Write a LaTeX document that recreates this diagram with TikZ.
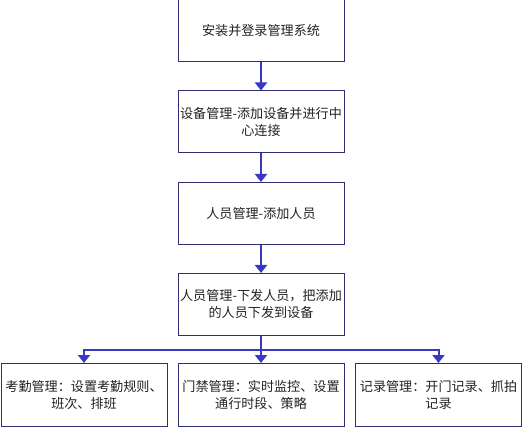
\documentclass[tikz,border=0pt]{standalone}
\usepackage{fontspec}
\newfontfamily\cjk{Noto Sans CJK SC}
\usepackage{tikz}
\usetikzlibrary{arrows.meta,positioning}
\definecolor{boxline}{HTML}{2E2E70}
\definecolor{flowblue}{HTML}{3838C4}
\definecolor{txt}{HTML}{222222}
\tikzset{
  stepbox/.style={
    draw=boxline,
    line width=1pt,
    minimum width=166pt,
    minimum height=62pt,
    inner sep=0pt,
    align=center,
    text=txt,
    font=\cjk\fontsize{13.1}{17}\selectfont
  },
  flow/.style={
    draw=flowblue,
    line width=2pt
  },
  flowarrow/.style={
    flow,
    -{Triangle[width=12pt,length=8pt]}
  }
}
\begin{document}
\begin{tikzpicture}[x=1pt,y=-1pt]
        \useasboundingbox (0,0) rectangle (524,427);
        \node[stepbox] (install) at (261,31) {安装并登录管理系统};
        \node[stepbox] (device) at (261,122) {设备管理-添加设备并进行中\\心连接};
        \node[stepbox] (person) at (261,213.5) {人员管理-添加人员};
        \node[stepbox] (issue) at (261,304.5) {人员管理-下发人员，把添加\\的人员下发到设备};
        \node[stepbox, minimum height=63pt] (attend) at (84,395) {考勤管理：设置考勤规则、\\班次、排班};
        \node[stepbox, minimum height=63pt] (access) at (261,395) {门禁管理：实时监控、设置\\通行时段、策略};
        \node[stepbox, minimum height=63pt] (record) at (438.5,395) {记录管理：开门记录、抓拍\\记录};
        \coordinate (split) at (261,350);
        \draw[flowarrow] (install) -- (device);
        \draw[flowarrow] (device) -- (person);
        \draw[flowarrow] (person) -- (issue);
        \draw[flow] (issue) -- (split);
        \draw[flowarrow] (split) -| (attend);
        \draw[flowarrow] (split) -- (access);
        \draw[flowarrow] (split) -| (record);
\end{tikzpicture}
\end{document}
